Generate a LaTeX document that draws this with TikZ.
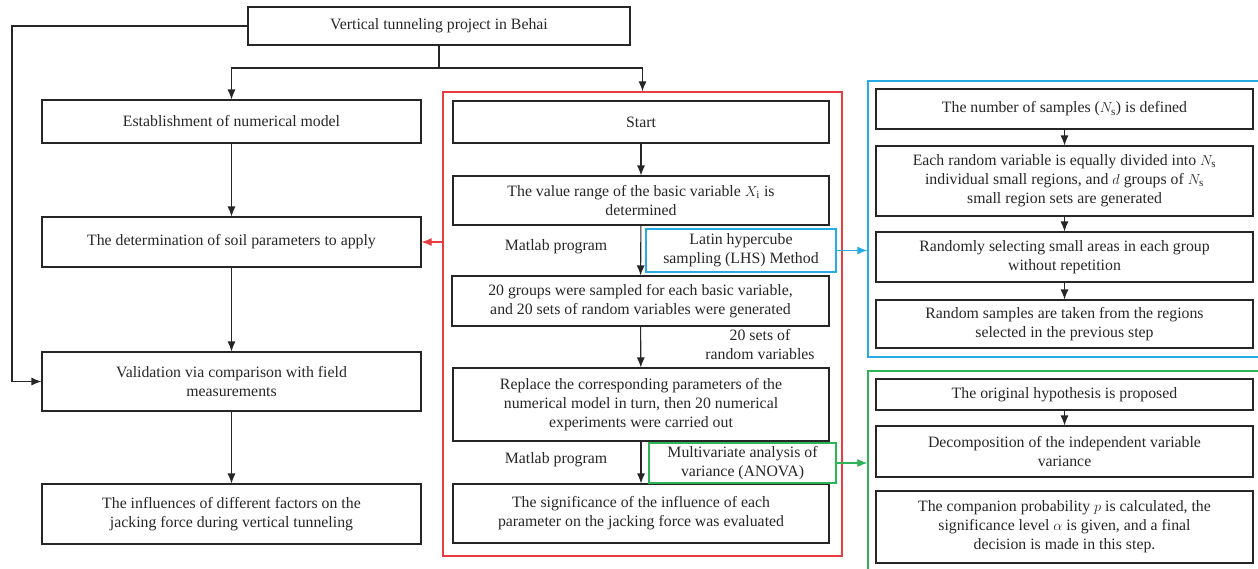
\documentclass[tikz,border=0pt]{standalone}
\usepackage{fontspec}
\setmainfont{Liberation Serif}
\usetikzlibrary{positioning, calc}
\usetikzlibrary{arrows, arrows.meta}
\tikzset{>={Latex[length=10pt,width=8pt]}}
\definecolor{myred}{RGB}{232,62,66}
\definecolor{myblue}{RGB}{40,170,226}
\definecolor{mygreen}{RGB}{46,180,86}
\colorlet{mygray}{black!85}
\usepackage{amsmath}

\begin{document}
\begin{tikzpicture}[x=1pt, y=-1pt, line width=1.1pt,
    font=\fontsize{15.8}{19}\selectfont, text=mygray,
    flow/.style={draw=mygray, align=center, inner sep=2pt},
    frame/.style={draw=#1, line width=1.3pt, inner sep=0pt}]
  \useasboundingbox (0,0) rectangle (1258,568);

  % Left column
  \node[flow, minimum width=382pt, minimum height=38pt] (proj) at (439,26) {Vertical tunneling project in Behai};
  \node[flow, minimum width=379pt, minimum height=43pt] (est) at (231.5,121.5) {Establishment of numerical model};
  \node[flow, minimum width=379pt, minimum height=50pt] (soil) at (231.5,242) {The determination of soil parameters to apply};
  \node[flow, minimum width=379pt, minimum height=59pt] (valid) at (231.5,381.5) {Validation via comparison with field\\measurements};
  \node[flow, minimum width=379pt, minimum height=60pt] (infl) at (231.5,514) {The influences of different factors on the\\jacking force during vertical tunneling};

  % Red frame (middle column)
  \node[frame=myred, minimum width=399pt, minimum height=464pt] (redfr) at (642.5,324) {};
  \node[flow, minimum width=376pt, minimum height=42pt] (start) at (641,122) {Start};
  \node[flow, minimum width=376pt, minimum height=49pt] (range) at (641,200.5) {The value range of the basic variable $X_{\mathrm{i}}$ is\\determined};
  \node[flow, minimum width=377pt, minimum height=50pt] (groups) at (640.5,301) {20 groups were sampled for each basic variable,\\and 20 sets of random variables were generated};
  \node[flow, minimum width=376pt, minimum height=73pt] (repl) at (641,404.5) {Replace the corresponding parameters of the\\numerical model in turn, then 20 numerical\\experiments were carried out};
  \node[flow, minimum width=376pt, minimum height=59pt] (signif) at (641,513.5) {The significance of the influence of each\\parameter on the jacking force was evaluated};
  \node (mat1) at (556,247) {Matlab program};
  \node (mat2) at (556,460) {Matlab program};
  \node[flow, draw=myblue, minimum width=190pt, minimum height=43pt] (lhs) at (741,250.5) {Latin hypercube\\sampling (LHS) Method};
  \node[align=center] (sets) at (760,345) {20 sets of\\random variables};
  \node[flow, draw=mygreen, minimum width=187pt, minimum height=40pt] (anova) at (742.5,463) {Multivariate analysis of\\variance (ANOVA)};

  % Blue frame (LHS steps)
  \node[frame=myblue, minimum width=394pt, minimum height=276pt] (bluefr) at (1065,219) {};
  \node[flow, minimum width=377pt, minimum height=40pt] (ns) at (1064.5,109) {The number of samples ($N_{\mathrm{s}}$) is defined};
  \node[flow, minimum width=377pt, minimum height=70pt] (divide) at (1064.5,181) {Each random variable is equally divided into $N_{\mathrm{s}}$\\individual small regions, and $d$ groups of $N_{\mathrm{s}}$\\small region sets are generated};
  \node[flow, minimum width=377pt, minimum height=50pt] (select) at (1064.5,257) {Randomly selecting small areas in each group\\without repetition};
  \node[flow, minimum width=377pt, minimum height=48pt] (take) at (1064.5,324) {Random samples are taken from the regions\\selected in the previous step};

  % Green frame (ANOVA steps)
  \node[frame=mygreen, minimum width=394pt, minimum height=201pt] (greenfr) at (1065,471.5) {};
  \node[flow, minimum width=377pt, minimum height=31pt] (hypo) at (1064.5,394.5) {The original hypothesis is proposed};
  \node[flow, minimum width=377pt, minimum height=51pt] (decomp) at (1064.5,451.5) {Decomposition of the independent variable\\variance};
  \node[flow, minimum width=377pt, minimum height=72pt] (comp) at (1064.5,527) {The companion probability $p$ is calculated, the\\significance level $\alpha$ is given, and a final\\decision is made in this step.};

  % Arrows
  \coordinate (lft) at (12,26);
  \coordinate (split) at (439,68);
  \draw[->, mygray] (proj.west) -- (lft) |- (valid.west);
  \draw[mygray] (proj.south) -- (split);
  \draw[->, mygray] (split) -| (est.north);
  \draw[->, mygray] (split) -| (redfr.north);
  \draw[->, mygray] (est) -- (soil);
  \draw[->, mygray] (soil) -- (valid);
  \draw[->, mygray] (valid) -- (infl);
  \draw[->, mygray] (start) -- (range);
  \draw[->, mygray] (range) -- (groups);
  \draw[->, mygray] (groups) -- (repl);
  \draw[->, mygray] (repl) -- (signif);
  \draw[->, mygray] (ns) -- (divide);
  \draw[->, mygray] (divide) -- (select);
  \draw[->, mygray] (select) -- (take);
  \draw[->, mygray] (hypo) -- (decomp);
  \draw[->, myred] (redfr.west |- soil.east) -- (soil.east);
  \draw[->, myblue] (lhs.east) -- (bluefr.west |- lhs.east);
  \draw[->, mygreen] (anova.east) -- (greenfr.west |- anova.east);
\end{tikzpicture}
\end{document}
